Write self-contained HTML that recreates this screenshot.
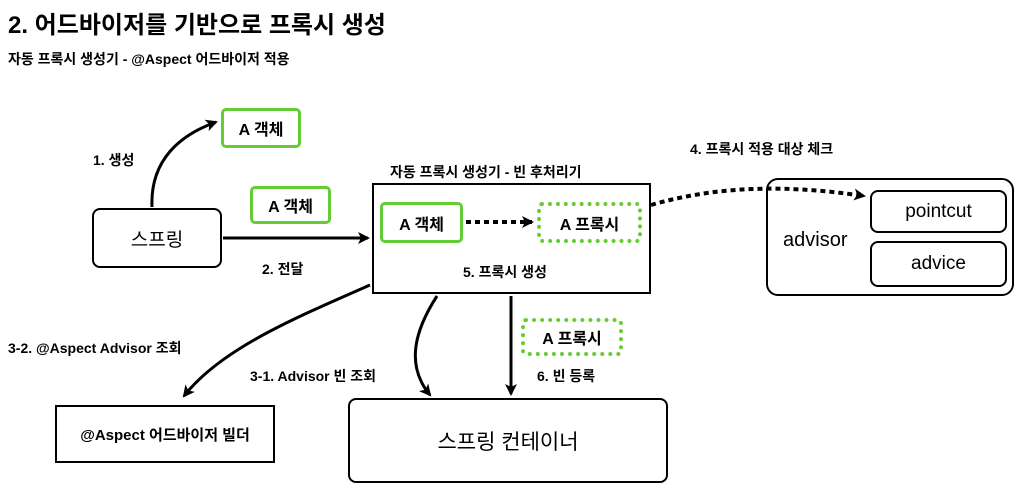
<!DOCTYPE html><html><head><meta charset="utf-8"><style>
body{margin:0;width:1023px;height:497px;background:#fff;position:relative;overflow:hidden;font-family:"Liberation Sans","Noto Sans CJK KR",sans-serif;color:#000}
.t{position:absolute;white-space:nowrap}
.l{font-weight:bold}
.b{position:absolute;box-sizing:border-box;display:flex;align-items:center;justify-content:center;font-weight:bold}
.g{border:3px solid #6c3;border-radius:5px;font-size:16px}
.gd{border:4px dotted #6c3;border-radius:5px;font-size:16px}
.k{border:2px solid #000;border-radius:8px}
</style></head><body>
<div class="t" style="left:8px;top:5px;font-size:24px;font-weight:bold">2. 어드바이저를 기반으로 프록시 생성</div>
<div class="t" style="left:8px;top:49px;font-size:14px;font-weight:bold">자동 프록시 생성기 - @Aspect 어드바이저 적용</div>
<svg width="1023" height="497" style="position:absolute;left:0;top:0">
<defs><marker id="a" markerWidth="12" markerHeight="12" refX="10" refY="6" orient="auto" markerUnits="userSpaceOnUse"><path d="M0,0L12,6L0,12L3,6z"/></marker></defs>
<g fill="none" stroke="#000" stroke-width="3">
<path d="M152,207 C150,160 180,135 216,122" marker-end="url(#a)"/>
<path d="M223,238 L368,238" marker-end="url(#a)"/>
<path d="M370,285 C290,320 220,350 184,396" marker-end="url(#a)"/>
<path d="M437,296 C415,330 405,365 430,395" marker-end="url(#a)"/>
<path d="M511,296 L511,394" marker-end="url(#a)"/>
<path d="M466,222 L532,222" stroke-width="4" stroke-dasharray="5 4" marker-end="url(#a)"/>
<path d="M651,205 C720,185 790,185 864,196" stroke-width="4" stroke-dasharray="5 4" marker-end="url(#a)"/>
</g></svg>
<div class="b g" style="left:221px;top:108px;width:80px;height:40px">A 객체</div>
<div class="t l" style="left:93px;top:150px;font-size:14px">1. 생성</div>
<div class="b k" style="left:92px;top:208px;width:130px;height:60px;font-size:19px;font-weight:normal">스프링</div>
<div class="b g" style="left:250px;top:186px;width:81px;height:38px">A 객체</div>
<div class="t l" style="left:262px;top:259px;font-size:14px">2. 전달</div>
<div class="t" style="left:390px;top:162px;font-size:14px;font-weight:bold">자동 프록시 생성기 - 빈 후처리기</div>
<div class="b" style="left:372px;top:183px;width:279px;height:111px;border:2px solid #000"></div>
<div class="b g" style="left:380px;top:202px;width:83px;height:41px">A 객체</div>
<div class="b gd" style="left:537px;top:202px;width:105px;height:41px">A 프록시</div>
<div class="t l" style="left:463px;top:262px;font-size:14px">5. 프록시 생성</div>
<div class="t l" style="left:690px;top:139px;font-size:14px">4. 프록시 적용 대상 체크</div>
<div class="b k" style="left:766px;top:178px;width:248px;height:118px;border-radius:12px"></div>
<div class="t" style="left:783px;top:229px;font-size:20px">advisor</div>
<div class="b k" style="left:870px;top:190px;width:137px;height:43px;font-size:19px;font-weight:normal">pointcut</div>
<div class="b k" style="left:870px;top:241px;width:137px;height:46px;font-size:19px;font-weight:normal">advice</div>
<div class="t l" style="left:8px;top:338px;font-size:14px">3-2. @Aspect Advisor 조회</div>
<div class="t l" style="left:250px;top:366px;font-size:14px">3-1. Advisor 빈 조회</div>
<div class="b gd" style="left:521px;top:318px;width:102px;height:38px">A 프록시</div>
<div class="t l" style="left:537px;top:366px;font-size:14px">6. 빈 등록</div>
<div class="b" style="left:55px;top:405px;width:220px;height:58px;border:2px solid #000;font-size:15px">@Aspect 어드바이저 빌더</div>
<div class="b k" style="left:348px;top:398px;width:320px;height:85px;font-size:21px;font-weight:normal">스프링 컨테이너</div>
</body></html>
